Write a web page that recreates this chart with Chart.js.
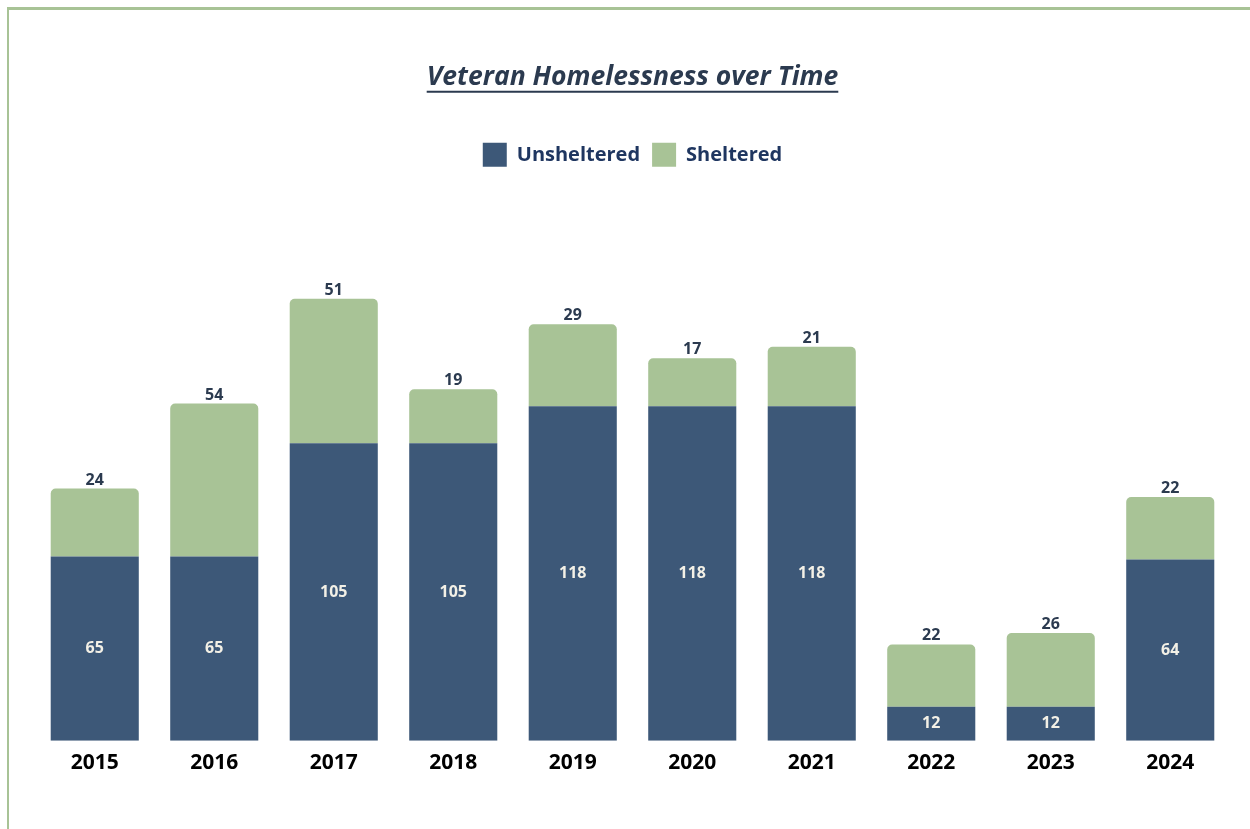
<!DOCTYPE html>
<html>
<head>
<meta charset="utf-8">
<script src="https://cdn.jsdelivr.net/npm/chart.js@4.4.1/dist/chart.umd.min.js"></script>
<style>
  html, body { margin: 0; padding: 0; background: #fff; }
  #wrap { position: relative; width: 1250px; height: 829px; }
  #frame { position: absolute; left: 7px; top: 7px; right: -10px; bottom: -10px; border-left: 2px solid #a8c396; border-top: 3px solid #a8c396; }
  canvas { position: absolute; left: 0; top: 0; }
</style>
</head>
<body>
<div id="wrap">
  <div id="frame"></div>
  <canvas id="chart" width="1250" height="829"></canvas>
</div>
<script>
// data
const years = ['2015', '2016', '2017', '2018', '2019', '2020', '2021', '2022', '2023', '2024'];
const unsheltered = [65, 65, 105, 105, 118, 118, 118, 12, 12, 64];
const sheltered = [24, 54, 51, 19, 29, 17, 21, 22, 26, 22];

const NAVY = '#3d5878';
const SAGE = '#a8c396';
const FONT = "'Open Sans', 'DejaVu Sans', sans-serif";
const TITLE_SIZE = 26.5;

// value labels: unsheltered centred in its bar, sheltered above the stack
const barLabels = {
    id: 'barLabels',
    afterDatasetsDraw(chart) {
        const ctx = chart.ctx;
        ctx.save();
        ctx.textAlign = 'center';
        ctx.font = `bold 16px ${FONT}`;
        chart.getDatasetMeta(0).data.forEach((bar, i) => {
            ctx.fillStyle = '#f3f0e6';
            ctx.textBaseline = 'middle';
            ctx.fillText(unsheltered[i], bar.x, (bar.y + bar.base) / 2);
        });
        chart.getDatasetMeta(1).data.forEach((bar, i) => {
            ctx.fillStyle = '#2b3a4f';
            ctx.textBaseline = 'alphabetic';
            ctx.fillText(sheltered[i], bar.x, bar.y - 4);
        });
        ctx.restore();
    }
};

// underline under the title
const titleUnderline = {
    id: 'titleUnderline',
    afterDraw(chart) {
        const t = chart.titleBlock;
        if (!t) return;
        const ctx = chart.ctx;
        ctx.save();
        ctx.font = `italic bold ${TITLE_SIZE}px ${FONT}`;
        const w = ctx.measureText(chart.options.plugins.title.text).width;
        const cx = (t.left + t.right) / 2;
        const y = t.bottom - t.options.padding.bottom - 2;
        ctx.strokeStyle = '#2b3a4f';
        ctx.lineWidth = 2;
        ctx.beginPath();
        ctx.moveTo(cx - w / 2, y);
        ctx.lineTo(cx + w / 2, y);
        ctx.stroke();
        ctx.restore();
    }
};

new Chart(document.getElementById('chart'), {
    type: 'bar',
    data: {
        labels: years,
        datasets: [
            { label: 'Unsheltered', data: unsheltered, backgroundColor: NAVY, borderWidth: 0 },
            { label: 'Sheltered', data: sheltered, backgroundColor: SAGE, borderWidth: 0,
              borderRadius: { topLeft: 5, topRight: 5 }, borderSkipped: 'bottom' }
        ]
    },
    options: {
        responsive: false,
        animation: false,
        layout: { padding: { left: 35, right: 20, bottom: 51, top: 0 } },
        datasets: { bar: { barPercentage: 0.737, categoryPercentage: 1 } },
        plugins: {
            title: {
                display: true,
                text: 'Veteran Homelessness over Time',
                color: '#2b3a4f',
                font: { family: FONT, size: TITLE_SIZE, weight: 'bold', style: 'italic' },
                padding: { top: 62, bottom: 37 }
            },
            legend: {
                labels: {
                    color: '#1f3660',
                    font: { family: FONT, size: 20, weight: 'bold' },
                    boxWidth: 24, boxHeight: 24, padding: 12
                }
            },
            tooltip: { enabled: false }
        },
        scales: {
            x: {
                stacked: true,
                grid: { display: false },
                border: { display: false },
                ticks: { color: '#000', font: { family: FONT, size: 21, weight: 'bold' }, padding: 2 }
            },
            y: {
                stacked: true,
                display: false,
                min: 0,
                max: 199
            }
        }
    },
    plugins: [barLabels, titleUnderline]
});
</script>
</body>
</html>
